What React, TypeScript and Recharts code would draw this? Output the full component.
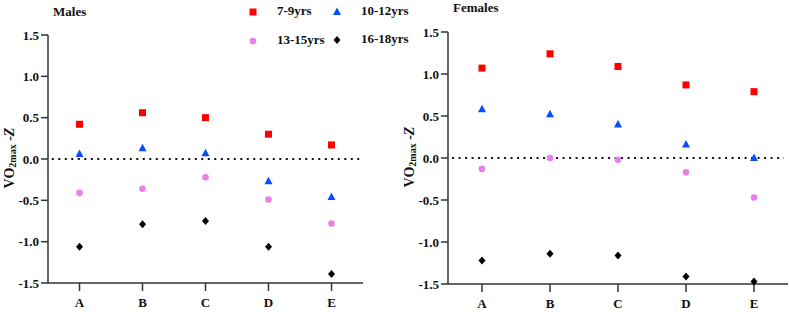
import React from 'react'
import { ScatterChart, Scatter, XAxis, YAxis, ReferenceLine } from 'recharts'

const categories = ['A', 'B', 'C', 'D', 'E']
const yTicks = [-1.5, -1, -0.5, 0, 0.5, 1, 1.5]

const males7to9 = [0.42, 0.56, 0.5, 0.3, 0.17]
const males10to12 = [0.06, 0.13, 0.07, -0.27, -0.46]
const males13to15 = [-0.41, -0.36, -0.22, -0.49, -0.78]
const males16to18 = [-1.06, -0.79, -0.75, -1.06, -1.39]

const females7to9 = [1.07, 1.24, 1.09, 0.87, 0.79]
const females10to12 = [0.58, 0.52, 0.4, 0.16, 0.0]
const females13to15 = [-0.13, 0.0, -0.02, -0.17, -0.47]
const females16to18 = [-1.22, -1.14, -1.16, -1.41, -1.47]

const FONT = '"Liberation Serif", "Times New Roman", serif'
const AXIS = '#333'

const toPoints = (vals: number[]) => vals.map((v, i) => ({ x: i, y: v }))

const SquareDot = (p: any) => <rect x={p.cx - 3.5} y={p.cy - 3.5} width={7} height={7} fill="#ff0000" />
const TriangleDot = (p: any) => (
  <polygon points={`${p.cx},${p.cy - 4.5} ${p.cx - 4},${p.cy + 3} ${p.cx + 4},${p.cy + 3}`} fill="#0a4cff" />
)
const CircleDot = (p: any) => <circle cx={p.cx} cy={p.cy} r={3.3} fill="#ea7fea" />
const DiamondDot = (p: any) => (
  <polygon points={`${p.cx},${p.cy - 4} ${p.cx + 3.5},${p.cy} ${p.cx},${p.cy + 4} ${p.cx - 3.5},${p.cy}`} fill="#000" />
)

const XTick = (p: any) => (
  <text x={p.x} y={p.y} dy="0.75em" textAnchor="middle" fontFamily={FONT} fontWeight="bold" fontSize={13} fill="#111">
    {categories[p.payload.value]}
  </text>
)

const YTick = (p: any) => (
  <text x={p.x} y={p.y} dy="0.35em" textAnchor="end" fontFamily={FONT} fontWeight="bold" fontSize={13} fill="#111">
    {Number(p.payload.value).toFixed(1)}
  </text>
)

const YLabel = (props: any) => {
  const { viewBox } = props
  const x = viewBox.x + viewBox.width - 39
  const y = viewBox.y + viewBox.height / 2 - 1
  return (
    <text x={x} y={y} transform={`rotate(-90, ${x}, ${y})`} textAnchor="middle" dominantBaseline="central"
      fontFamily={FONT} fontWeight="bold" fontSize={14} fill="#111">
      <tspan>VO</tspan>
      <tspan fontSize={10} dy={3}>2max</tspan>
      <tspan dy={-3}> -</tspan>
      <tspan fontStyle="italic">Z</tspan>
    </text>
  )
}

const Panel = (props: any) => {
  const { left, width, top, bottom, right, series, title, titleY } = props
  return (
    <div style={{ position: 'absolute', left, top: 0 }}>
      <div style={{ position: 'absolute', left: 53, top: titleY, fontFamily: FONT, fontWeight: 'bold', fontSize: 13, color: '#111', whiteSpace: 'nowrap' }}>
        {title}
      </div>
      <ScatterChart width={width} height={312} margin={{ top, right, left: 0, bottom: 0 }} style={{ fontFamily: FONT }}>
        <XAxis type="number" dataKey="x" domain={[-0.5, 4.5]} ticks={[0, 1, 2, 3, 4]}
          interval={0} height={312 - bottom} tickSize={8} tickMargin={6} tick={<XTick />}
          axisLine={{ stroke: AXIS, strokeWidth: 1.5 }} tickLine={{ stroke: AXIS, strokeWidth: 1.5 }} />
        <YAxis type="number" dataKey="y" domain={[-1.5, 1.5]} ticks={yTicks} interval={0}
          width={48} tickSize={7} tickMargin={2} tick={<YTick />}
          axisLine={{ stroke: AXIS, strokeWidth: 1.5 }} tickLine={{ stroke: AXIS, strokeWidth: 1.5 }}
          label={<YLabel />} />
        <ReferenceLine segment={[{ x: -0.44, y: 0 }, { x: 4.44, y: 0 }]} stroke="#111" strokeWidth={2} strokeDasharray="2 4.5" />
        <Scatter data={toPoints(series[0])} shape={SquareDot} isAnimationActive={false} />
        <Scatter data={toPoints(series[1])} shape={TriangleDot} isAnimationActive={false} />
        <Scatter data={toPoints(series[2])} shape={CircleDot} isAnimationActive={false} />
        <Scatter data={toPoints(series[3])} shape={DiamondDot} isAnimationActive={false} />
      </ScatterChart>
    </div>
  )
}

const legendItems = [
  { name: '7-9yrs', x: 253, y: 12, icon: 'square' },
  { name: '10-12yrs', x: 337, y: 12, icon: 'triangle' },
  { name: '13-15yrs', x: 253, y: 41, icon: 'circle' },
  { name: '16-18yrs', x: 337, y: 40, icon: 'diamond' },
]

const LegendIcon = ({ icon }: { icon: string }) => {
  const c = 6
  return (
    <svg width={12} height={12} style={{ position: 'absolute', left: -6, top: -6 }}>
      {icon === 'square' && <SquareDot cx={c} cy={c} />}
      {icon === 'triangle' && <TriangleDot cx={c} cy={c} />}
      {icon === 'circle' && <CircleDot cx={c} cy={c} />}
      {icon === 'diamond' && <DiamondDot cx={c} cy={c} />}
    </svg>
  )
}

const App = () => {
  return (
    <div style={{ position: 'absolute', left: 0, top: 0, width: 789, height: 312, background: '#fff', overflow: 'hidden' }}>
      <Panel left={0} width={400} top={35} bottom={283} right={37} title="Males" titleY={4}
        series={[males7to9, males10to12, males13to15, males16to18]} />
      <Panel left={400} width={389} top={32} bottom={284} right={1} title="Females" titleY={0}
        series={[females7to9, females10to12, females13to15, females16to18]} />
      {legendItems.map((it) => (
        <div key={it.name} style={{ position: 'absolute', left: it.x, top: it.y }}>
          <LegendIcon icon={it.icon} />
          <span style={{ position: 'absolute', left: 24, top: -9, fontFamily: FONT, fontWeight: 'bold', fontSize: 13, color: '#111', whiteSpace: 'nowrap' }}>
            {it.name}
          </span>
        </div>
      ))}
    </div>
  )
}

export default App
